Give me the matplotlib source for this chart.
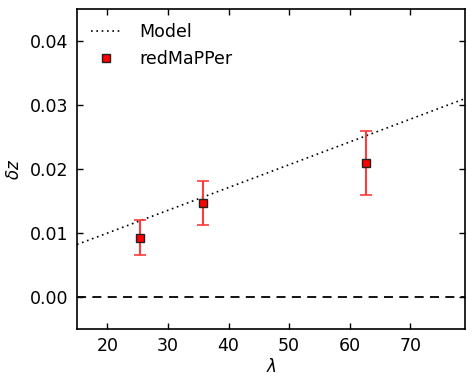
import matplotlib
matplotlib.use("Agg")
import matplotlib.pyplot as plt
import numpy as np

# Data
lam = [25.4, 35.8, 62.6]
dz = [0.0092, 0.0147, 0.0210]
err_lo = [0.0027, 0.0035, 0.0051]
err_hi = [0.0028, 0.0035, 0.0050]
model_x = [15.0, 79.0]
model_y = [0.0082, 0.0310]
xticks = [20, 30, 40, 50, 60, 70]
yticks = [0.00, 0.01, 0.02, 0.03, 0.04]

fig = plt.figure(figsize=(4.74, 3.85), dpi=100)
ax = fig.add_axes([0.1624, 0.1455, 0.8186, 0.8311])

ax.plot(model_x, model_y, color='k', lw=1.2, dashes=(1, 2.2), label='Model')
ax.axhline(0.0, ls='--', color='k', lw=1.3, dashes=(5, 3.5))
ax.errorbar(lam, dz, yerr=[err_lo, err_hi], fmt='none', ecolor='#ff3a3a',
            elinewidth=1.5, capsize=4, capthick=1.2)
ax.plot(lam, dz, ls='none', marker='s', ms=6.3, mfc='red', mec='#222222',
        mew=1.0, label='redMaPPer')

ax.set_xlim(15, 79)
ax.set_ylim(-0.005, 0.045)
ax.set_xticks(xticks)
ax.set_yticks(yticks)
ax.set_yticklabels(['%.2f' % v for v in yticks])
ax.tick_params(direction='in', top=True, right=True, labelsize=12.5, length=4, width=1, pad=6)
for s in ax.spines.values():
    s.set_linewidth(1.2)
ax.set_xlabel(r'$\lambda$', fontsize=12, labelpad=2)
ax.set_ylabel(r'$\delta z$', fontsize=12, labelpad=5)

ax.legend(loc='upper left', frameon=False, fontsize=12.5, numpoints=1,
          handlelength=1.8, handletextpad=1.0, borderaxespad=0.4)

fig.savefig('out.png', dpi=100)
